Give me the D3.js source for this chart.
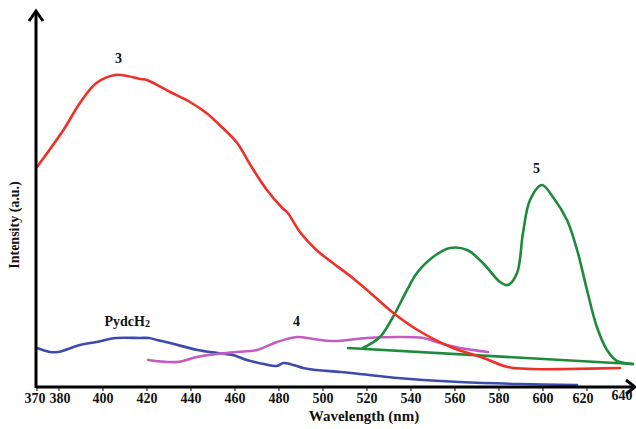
<!DOCTYPE html>
<html><head><meta charset="utf-8">
<script src="https://cdn.jsdelivr.net/npm/d3@7"></script>
<style>body{margin:0;background:#fff}svg{display:block}</style>
</head><body>
<svg id="c" width="636" height="429"></svg>
<script>
// --- data (arbitrary intensity units) ---
const xTicks = [370,380,400,420,440,460,480,500,520,540,560,580,600,620,640];
const redW = [370,382,389.5,397,405.5,411,417,420,430.5,439.5,447,453,461,467,474.5,481.5,484,489.5,497,504.5,513.5,520,532,543,558,573,584,595.5,611,635];
const redV = [220,257,284,304,312,311,308,307,295,285,274,262,244,222,197,179,174,155,137,124,109,97,74,57,40,29,20,18,18,19];
const blueW = [370,376,379.5,389.5,397,406,417,421,424.5,430.5,443,452,459,465.5,473,479,482,485,491,497,508,521,534,545.5,562,589.5,615.5];
const blueV = [39,35,35,42,45,49,49,49,47,44,37,34,32,27,23,21,24,23,19,17,15,12,9,7,5,3,2];
const magW = [420.5,433.6,442.7,451.8,460.9,470,479.1,488.2,495.5,504.5,520,535,545.5,553.2,562.3,575];
const magV = [27,25,30,33,35,37,45,50,48,46,49,50,49,44,39,35];
const greenW = [518.2,525.9,531.8,538.2,542.7,550,557.7,565.5,572.7,580.5,584.1,588.2,590.9,594.1,599.5,604.5,610.9,615.5,620,624.5,629.1,633.6,640.9];
const greenV = [39,50,70,97,114,130,139,137,124,105,102,114,154,187,202,190,167,137,97,60,37,26,23];
const greenBaseW = [511.4,640.9];
const greenBaseV = [39,23];
const labels = [
  {t:"3", w:407, v:324},
  {t:"4", w:488, v:61},
  {t:"5", w:597, v:214},
  {t:"PydcH", sub:"2", w:411, v:61}
];

const svg = d3.select("#c");
const x = d3.scaleLinear().domain([370,640]).range([37,631]);
const y = d3.scaleLinear().domain([0,377]).range([387,10]);
const font = "'Liberation Serif','Times New Roman',serif";

function series(W,V){return W.map((w,i)=>[w,V[i]]);}
const line = d3.line().x(d=>x(d[0])).y(d=>y(d[1])).curve(d3.curveCatmullRom.alpha(0.5));
const lin = d3.line().x(d=>x(d[0])).y(d=>y(d[1]));

const draw = (data,color,gen)=>svg.append("path").attr("d",(gen||line)(data))
  .attr("fill","none").attr("stroke",color).attr("stroke-width",2.6)
  .attr("stroke-linejoin","round").attr("stroke-linecap","round");

draw(series(blueW,blueV),"#3b4cad");
draw(series(magW,magV),"#c45cbf");
draw(series(greenBaseW,greenBaseV),"#1e8a3c",lin);
draw(series(greenW,greenV),"#1e8a3c");
draw(series(redW,redV),"#ee3026");

// axes
const ax = svg.append("g");
ax.append("line").attr("x1",36).attr("y1",387).attr("x2",634).attr("y2",387).attr("stroke","#000").attr("stroke-width",3);
ax.append("line").attr("x1",36).attr("y1",388).attr("x2",36).attr("y2",12).attr("stroke","#000").attr("stroke-width",3);
ax.append("path").attr("d","M29,21 L36,11 L43,21").attr("fill","none").attr("stroke","#000").attr("stroke-width",3);
ax.append("path").attr("d","M626,380 L635,387 L626,394").attr("fill","none").attr("stroke","#000").attr("stroke-width",3);

const xg = svg.append("g");
xTicks.filter(t=>t<640).forEach(t=>{
  xg.append("line").attr("x1",x(t)).attr("x2",x(t)).attr("y1",387).attr("y2",391).attr("stroke","#000").attr("stroke-width",1);
});
xTicks.forEach(t=>{
  let dx=0, dy=0;
  if(t===370) dx=-2;
  if(t===380) dx=1;
  if(t===620) dx=-4;
  if(t===640){dx=-9;dy=-3;}
  xg.append("text").attr("x",x(t)+dx).attr("y",403+dy).attr("text-anchor","middle")
    .attr("font-family",font).attr("font-weight","bold").attr("font-size",14).attr("fill","#111").text(t);
});

svg.append("text").attr("x",364).attr("y",421).attr("text-anchor","middle")
  .attr("font-family",font).attr("font-weight","bold").attr("font-size",15).attr("fill","#111").text("Wavelength (nm)");
svg.append("text").attr("transform","translate(19,225) rotate(-90)").attr("text-anchor","middle")
  .attr("font-family",font).attr("font-weight","bold").attr("font-size",14).attr("fill","#111").text("Intensity (a.u.)");

labels.forEach(l=>{
  const t = svg.append("text").attr("x",x(l.w)).attr("y",y(l.v)).attr("text-anchor","middle")
    .attr("font-family",font).attr("font-weight","bold").attr("font-size",14).attr("fill","#111");
  t.append("tspan").text(l.t);
  if(l.sub) t.append("tspan").attr("font-size",10).attr("dy",1).text(l.sub);
});
</script>
</body></html>
